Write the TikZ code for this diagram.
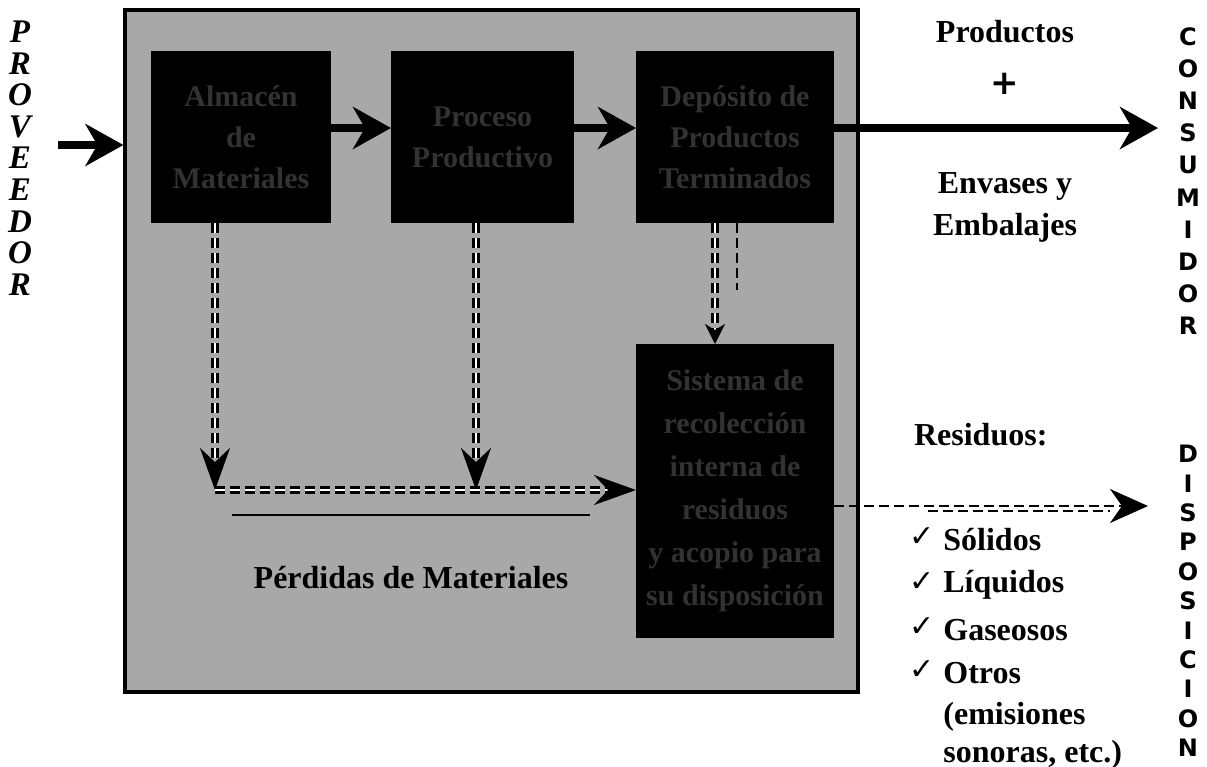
\documentclass[tikz,border=0pt]{standalone}
\usepackage{fontspec}
\setmainfont{Liberation Serif}
\newfontfamily\heavysans{DejaVu Sans}
\newfontfamily\symfont{DejaVu Sans}
\usetikzlibrary{arrows.meta}
\definecolor{panelgray}{RGB}{168,168,168}
\definecolor{boxtext}{RGB}{50,50,50}
\begin{document}
\begin{tikzpicture}[x=0.5pt,y=-0.5pt,
  procbox/.style={draw=black, fill=black, line width=1pt, inner sep=0pt,
    text=boxtext, font=\bfseries\fontsize{15}{20.5}\selectfont, align=center},
  flow/.style={line width=4pt, -{Stealth[length=19pt,width=21pt,inset=6pt]}},
  lossflow/.style={line width=1.4pt, dashed, dash pattern=on 5pt off 2.5pt,
    double=white, double distance=1.3pt,
    -{Stealth[length=21pt,width=15pt,inset=7pt]}},
  label/.style={font=\bfseries\fontsize{16}{18}\selectfont},
  vletters/.style={align=center, inner sep=0pt},
]
\useasboundingbox (0,0) rectangle (1207,767);
\fill[white] (0,0) rectangle (1207,767);

% plant area
\node[draw=black, fill=panelgray, line width=1.6pt, minimum width=733*0.5pt,
  minimum height=682*0.5pt, inner sep=0pt] (plant) at (491.5,351) {};

% process boxes
\node[procbox, minimum width=178*0.5pt, minimum height=170*0.5pt] (alm) at (241,137)
  {Almacén\\de\\Materiales};
\node[procbox, minimum width=181*0.5pt, minimum height=170*0.5pt] (proc) at (482.5,137)
  {Proceso\\Productivo};
\node[procbox, minimum width=196*0.5pt, minimum height=170*0.5pt] (dep) at (735,137)
  {Depósito de\\Productos\\Terminados};
\node[procbox, minimum width=196*0.5pt, minimum height=292*0.5pt,
  font=\bfseries\fontsize{15}{21.5}\selectfont] (res) at (735,491)
  {Sistema de\\recolección\\interna de\\residuos\\y acopio para\\su disposición};

% supplier and consumer columns
\node[vletters, font=\bfseries\itshape\fontsize{16.5}{15.8}\selectfont] (prov) at (20,158)
  {P\\R\\O\\V\\E\\E\\D\\O\\R};
\node[vletters, font=\heavysans\bfseries\fontsize{12}{16.1}\selectfont] (cons) at (1188,181)
  {C\\O\\N\\S\\U\\M\\I\\D\\O\\R};
\node[vletters, font=\heavysans\bfseries\fontsize{12}{14.7}\selectfont] (disp) at (1188,601)
  {D\\I\\S\\P\\O\\S\\I\\C\\I\\O\\N};

% main material flow
\coordinate (inA) at (58,145);
\draw[flow] (inA) -- (plant.west |- inA);
\draw[flow] (alm.east |- 0,128) -- (proc.west |- 0,128);
\draw[flow] (proc.east |- 0,128) -- (dep.west |- 0,128);
\coordinate (outB) at (1158,128);
\draw[flow] (dep.east |- outB) -- (outB);

% losses
\coordinate (j1) at (215,490);
\coordinate (j2) at (476,490);
\draw[lossflow] (alm.south -| j1) -- (j1);
\draw[lossflow] (proc.south -| j2) -- (j2);
\draw[lossflow] (j1) -- (res.west |- j1);
\draw[lossflow, -{Stealth[length=10pt,width=10pt,inset=3pt]}] (dep.south -| 715,0) -- (res.north -| 715,0);
\coordinate (stub) at (737,290);
\draw[line width=1.2pt, dash pattern=on 5pt off 2.5pt] (dep.south -| stub) -- (stub);
\coordinate (lossline) at (590,515);
\draw[line width=0.8pt] (232,515) -- (lossline);
\node[label] (perd) at (411,578) {Pérdidas de Materiales};

% waste to disposal
\coordinate (outC) at (1148,506);
\draw[line width=1.1pt, dash pattern=on 5pt off 2.5pt,
  -{Stealth[length=19pt,width=17pt,inset=6pt]}] (res.east |- outC) -- (outC);
\coordinate (dblEnd) at (1110,511);
\draw[line width=1.1pt, dash pattern=on 5pt off 2.5pt] (928,511) -- (dblEnd);

% labels on the right
\node[label] (prod) at (1005,32) {Productos};
\node[font=\heavysans\bfseries\fontsize{17}{18}\selectfont] (plus) at (1005,84) {+};
\node[label] (env) at (1005,186) {Envases y};
\node[label] (emb) at (1005,228) {Embalajes};
\node[label, anchor=west] (resid) at (907,435) {Residuos:};
\foreach \t/\yy [count=\i] in {Sólidos/540, Líquidos/585, Gaseosos/630, Otros/673}{
  \node[font=\symfont\fontsize{15}{16}\selectfont] (chk\i) at (922,\yy-3) {✓};
  \node[label, anchor=west, inner sep=0pt] (item\i) at (943,\yy) {\t};
}
\node[label, anchor=west, inner sep=0pt] (item5) at (943,717) {(emisiones};
\node[label, anchor=west, inner sep=0pt] (item6) at (943,755) {sonoras, etc.)};
\end{tikzpicture}
\end{document}
